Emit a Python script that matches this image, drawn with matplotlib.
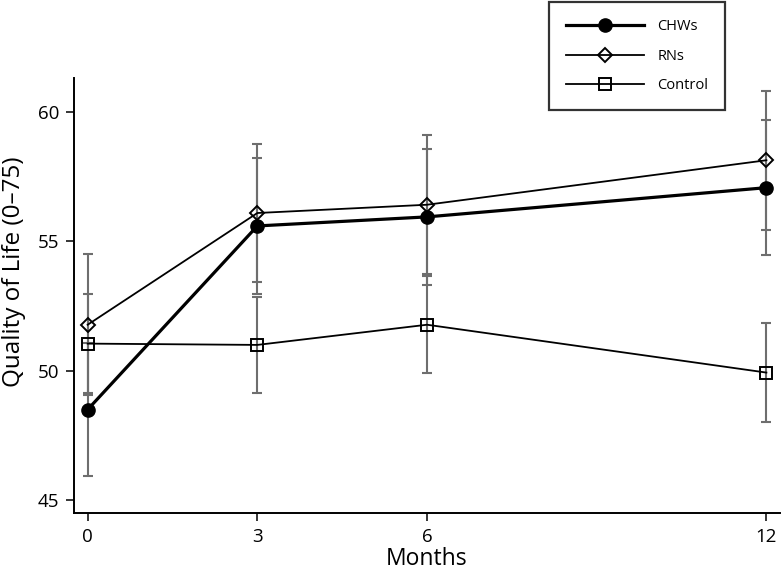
import numpy as np
import matplotlib; matplotlib.use("Agg")
import matplotlib.pyplot as plt

plt.rcParams['font.family'] = ['Open Sans', 'DejaVu Sans']

months = [0, 3, 6, 12]
groups = ["CHWs", "RNs", "Control"]
chw_mean = [48.5, 55.6, 55.95, 57.08]
chw_err = [2.57, 2.63, 2.62, 2.62]
rn_mean = [51.78, 56.1, 56.42, 58.14]
rn_err = [2.72, 2.65, 2.68, 2.69]
ctl_mean = [51.05, 51.0, 51.78, 49.93]
ctl_err = [1.9, 1.86, 1.88, 1.9]

fig = plt.figure(figsize=(7.82, 5.8), dpi=100)
ax = fig.add_axes([0.0946, 0.1155, 0.9028, 0.75])

ebkw = dict(ecolor="#6e6e6e", elinewidth=1.5, capsize=3.8, capthick=1.5)
series = [
    (chw_mean, chw_err, dict(marker="o", ms=9.5, mfc="black", mec="black", lw=2.3)),
    (rn_mean, rn_err, dict(marker="D", ms=7, mfc="none", mec="black", mew=1.4, lw=1.3)),
    (ctl_mean, ctl_err, dict(marker="s", ms=8.5, mfc="none", mec="black", mew=1.4, lw=1.3)),
]
handles = []
for (m, e, st), name in zip(series, groups):
    ax.errorbar(months, m, yerr=e, fmt="none", zorder=2, **ebkw)
    h, = ax.plot(months, m, color="black", label=name, zorder=3, **st)
    handles.append(h)

ax.set_xlim(-0.242, 12.24)
ax.set_ylim(44.5, 61.32)
ax.set_xticks(months)
ax.set_yticks([45, 50, 55, 60])
for s in ["top", "right"]:
    ax.spines[s].set_visible(False)
for s in ["left", "bottom"]:
    ax.spines[s].set_linewidth(1.4)
ax.tick_params(length=5.8, width=1.1, labelsize=13.5, pad=5)
ax.set_xlabel("Months", fontsize=16.5, labelpad=1)
ax.set_ylabel("Quality of Life (0\u201375)", fontsize=17.5)
ax.yaxis.set_label_coords(-0.068, 0.554)

leg = fig.legend(handles=handles, loc="upper left", bbox_to_anchor=(0.702, 0.9966),
                 fontsize=10.5, handlelength=5.4, handletextpad=0.9, labelspacing=1.02,
                 borderpad=1.15, borderaxespad=0, fancybox=False, frameon=True)
leg.get_frame().set_edgecolor("black")
leg.get_frame().set_linewidth(1.6)

fig.savefig("out.png", dpi=100)
